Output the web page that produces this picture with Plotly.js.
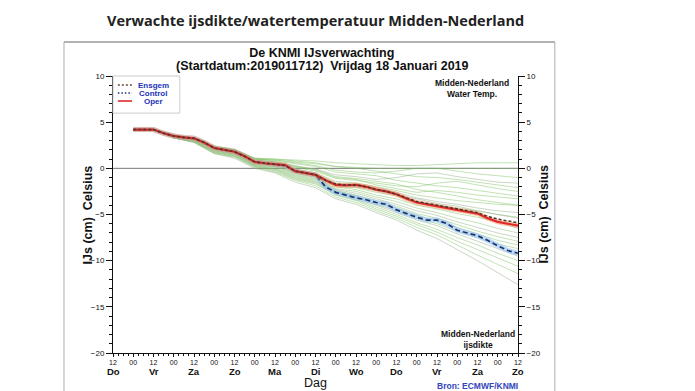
<!DOCTYPE html>
<html>
<head>
<meta charset="utf-8">
<script src="https://cdn.plot.ly/plotly-3.0.1.min.js"></script>
<style>html,body{margin:0;padding:0;background:#fff;}#chart{width:695px;height:391px;}</style>
</head>
<body>
<div id="chart"></div>
<script>
// ---- data ----
const hours6 = [12,18,24,30,36,42,48,54,60,66,72,78,84,90,96,102,108,114,120,126,132,138,144,150,156,162,168,174,180,186,192,198,204,210,216,222,228,234,240];
const oper = [4.2,4.2,4.2,3.8,3.5,3.35,3.25,2.8,2.2,2.0,1.8,1.3,0.7,0.55,0.45,0.35,-0.3,-0.5,-0.7,-1.3,-1.8,-1.85,-1.8,-2.0,-2.3,-2.5,-2.8,-3.3,-3.7,-3.9,-4.1,-4.3,-4.5,-4.7,-4.9,-5.4,-5.8,-6.0,-6.2];
const ensgem = [4.2,4.2,4.2,3.8,3.5,3.35,3.25,2.8,2.2,2.0,1.8,1.3,0.7,0.55,0.45,0.3,-0.3,-0.5,-0.7,-1.3,-1.7,-1.8,-1.8,-2.0,-2.3,-2.5,-2.8,-3.2,-3.6,-3.8,-4.0,-4.2,-4.4,-4.6,-4.8,-5.2,-5.5,-5.7,-5.9];
const control = [4.2,4.2,4.2,3.8,3.5,3.35,3.25,2.8,2.2,2.0,1.8,1.3,0.7,0.55,0.45,0.3,-0.3,-0.5,-0.7,-2.0,-2.6,-2.9,-3.2,-3.4,-3.7,-3.9,-4.5,-4.9,-5.3,-5.6,-5.6,-6.0,-6.7,-7.0,-7.3,-7.8,-8.4,-8.9,-9.2];

const hours12 = [12,24,36,48,60,72,84,96,108,120,132,144,156,168,180,192,204,216,228,240];
const m01 = [4.2,4.2,3.6,3.3,2.4,2.0,1.1,1.0,0.9,0.8,0.6,0.5,0.4,0.3,0.3,0.4,0.5,0.6,0.6,0.6];
const m02 = [4.2,4.2,3.5,3.3,2.3,2.0,1.0,0.9,0.7,0.5,0.2,0.1,0.0,0.0,0.0,0.0,0.0,0.0,0.0,0.0];
const m03 = [4.2,4.2,3.6,3.3,2.3,2.0,1.0,0.9,0.6,0.3,-0.2,-0.4,-0.5,-0.3,0.0,0.0,-0.3,-0.6,-0.8,-1.0];
const m04 = [4.2,4.2,3.5,3.2,2.2,1.9,0.9,0.7,0.3,-0.1,-0.7,-0.9,-1.2,-1.0,-0.6,-0.5,-0.9,-1.2,-1.5,-1.6];
const m05 = [4.2,4.2,3.5,3.2,2.2,1.9,0.8,0.6,0.1,-0.3,-1.1,-1.3,-1.6,-1.9,-2.0,-1.6,-1.4,-1.8,-2.2,-2.5];
const m06 = [4.2,4.2,3.5,3.3,2.3,1.9,0.9,0.7,0.2,-0.2,-1.0,-1.2,-1.8,-2.2,-2.6,-2.4,-2.6,-2.9,-3.1,-3.3];
const m07 = [4.2,4.2,3.5,3.2,2.2,1.8,0.8,0.5,-0.1,-0.5,-1.4,-1.6,-2.0,-2.4,-2.9,-3.2,-3.5,-3.7,-3.9,-4.0];
const m08 = [4.2,4.2,3.5,3.2,2.1,1.8,0.7,0.4,-0.2,-0.6,-1.6,-1.7,-2.1,-2.6,-3.2,-3.6,-3.9,-4.3,-4.6,-4.8];
const m09 = [4.2,4.2,3.5,3.2,2.2,1.8,0.7,0.4,-0.3,-0.8,-1.9,-2.1,-2.6,-3.0,-3.6,-4.0,-4.3,-4.6,-5.0,-5.3];
const m10 = [4.2,4.2,3.4,3.1,2.1,1.7,0.6,0.3,-0.4,-0.9,-2.0,-2.3,-2.9,-3.3,-4.0,-4.4,-4.9,-5.3,-5.8,-6.5];
const m11 = [4.2,4.2,3.4,3.1,2.0,1.6,0.5,0.2,-0.5,-1.0,-2.2,-2.5,-3.1,-3.6,-4.3,-4.8,-5.4,-5.9,-6.5,-7.0];
const m12 = [4.2,4.2,3.4,3.1,2.0,1.6,0.5,0.2,-0.6,-1.1,-2.3,-2.7,-3.3,-3.9,-4.6,-5.1,-5.8,-6.4,-7.0,-7.5];
const m13 = [4.2,4.2,3.4,3.0,1.9,1.5,0.4,0.1,-0.7,-1.2,-2.4,-2.9,-3.5,-4.1,-4.9,-5.4,-6.1,-6.8,-7.4,-7.9];
const m14 = [4.2,4.2,3.4,3.0,1.9,1.5,0.4,0.0,-0.8,-1.3,-2.5,-3.0,-3.7,-4.3,-5.1,-5.7,-6.4,-7.1,-7.8,-8.3];
const m15 = [4.2,4.2,3.3,3.0,1.8,1.4,0.3,-0.1,-0.9,-1.4,-2.6,-3.1,-3.9,-4.6,-5.4,-6.0,-6.8,-7.5,-8.2,-8.7];
const m16 = [4.2,4.2,3.3,2.9,1.8,1.4,0.3,-0.1,-1.0,-1.5,-2.7,-3.2,-4.0,-4.8,-5.6,-6.2,-7.1,-7.9,-8.7,-9.5];
const m17 = [4.2,4.2,3.3,2.9,1.7,1.3,0.2,-0.2,-1.1,-1.6,-2.8,-3.4,-4.2,-5.0,-5.9,-6.6,-7.5,-8.3,-9.2,-10.0];
const m18 = [4.2,4.2,3.3,2.9,1.7,1.3,0.2,-0.3,-1.2,-1.7,-2.9,-3.5,-4.4,-5.2,-6.1,-6.9,-7.9,-8.8,-9.7,-10.6];
const m19 = [4.2,4.2,3.3,2.8,1.6,1.2,0.1,-0.4,-1.3,-1.9,-3.1,-3.7,-4.6,-5.4,-6.4,-7.2,-8.3,-9.4,-10.4,-11.4];
const m20 = [4.2,4.2,3.3,2.8,1.6,1.1,0.0,-0.5,-1.5,-2.1,-3.3,-3.9,-4.8,-5.6,-6.7,-7.6,-8.8,-10.0,-11.3,-12.6];
const m21 = [4.2,4.2,3.5,3.3,2.3,2.0,1.0,0.8,0.5,0.2,-0.4,-0.6,-0.8,-1.3,-1.6,-1.9,-2.1,-2.4,-2.7,-3.0];
const m22 = [4.2,4.2,3.6,3.3,2.4,2.1,1.1,1.0,0.8,0.6,0.2,0.0,-0.3,-0.6,-0.9,-1.0,-1.2,-1.5,-1.8,-2.1];
const m23 = [4.2,4.2,3.5,3.2,2.2,1.9,0.8,0.6,0.2,-0.1,-0.9,-1.1,-1.4,-1.7,-2.3,-2.6,-3.0,-3.4,-3.7,-4.0];
const m24 = [4.2,4.2,3.4,3.1,2.1,1.7,0.6,0.3,-0.2,-0.7,-1.7,-2.0,-2.4,-2.9,-3.3,-3.8,-4.1,-4.6,-5.0,-5.4];
const members = [m01,m02,m03,m04,m05,m06,m07,m08,m09,m10,m11,m12,m13,m14,m15,m16,m17,m18,m19,m20,m21,m22,m23,m24];

const tickHours = [0,12,24,36,48,60,72,84,96,108,120,132,144,156,168,180,192,204,216,228,240];
const tickLabels = ["12","00","12","00","12","00","12","00","12","00","12","00","12","00","12","00","12","00","12","00","12"];
const dayHours = [0,24,48,72,96,120,144,168,192,216,240];
const dayNames = ["Do","Vr","Za","Zo","Ma","Di","Wo","Do","Vr","Za","Zo"];
const legendNames = ["Ensgem","Control","Oper"];

// ---- styles ----
const FONT = "Liberation Sans, Arial, sans-serif";
const ENS_STYLE = {color: '#4a3530', width: 1.5, dash: '3px,2px'};
const CTL_STYLE = {color: '#1b3277', width: 1.7, dash: '5px,3px'};
const OPER_STYLE = {color: '#e02a2a', width: 2.2};

// ---- traces ----
const traces = [];
members.forEach((m, i) => {
  traces.push({
    x: hours12, y: m, type: 'scatter', mode: 'lines', showlegend: false, hoverinfo: 'skip',
    line: {color: (i % 4 === 3) ? 'rgba(150,175,140,0.5)' : 'rgba(120,190,90,0.45)', width: 1}
  });
});
traces.push({x: hours6, y: control, type: 'scatter', mode: 'lines', showlegend: false, hoverinfo: 'skip',
  line: {color: 'rgba(140,190,240,0.55)', width: 5}});
traces.push({x: hours6, y: control, type: 'scatter', mode: 'lines', name: legendNames[1], showlegend: false, line: CTL_STYLE});
traces.push({x: hours6, y: oper, type: 'scatter', mode: 'lines', showlegend: false, hoverinfo: 'skip',
  line: {color: 'rgba(240,140,80,0.45)', width: 5}});
traces.push({x: hours6, y: oper, type: 'scatter', mode: 'lines', name: legendNames[2], showlegend: false, line: OPER_STYLE});
traces.push({x: hours6, y: ensgem, type: 'scatter', mode: 'lines', name: legendNames[0], showlegend: false, line: ENS_STYLE});
// transparent copy bound to the right-hand (mirror) axis so that it gets drawn
traces.push({x: hours6, y: oper, type: 'scatter', mode: 'lines', yaxis: 'y2', opacity: 0, showlegend: false,
  hoverinfo: 'skip', line: {width: 0.1, color: 'rgba(0,0,0,0)'}});

// ---- annotations ----
const annotations = [];
dayHours.forEach((h, i) => {
  annotations.push({x: h, xref: 'x', y: -0.066, yref: 'paper', xanchor: 'center', yanchor: 'middle', showarrow: false,
    text: '<b>' + dayNames[i] + '</b>', font: {family: FONT, size: 9.5, color: '#111'}});
});
annotations.push({x: 0.886, xref: 'paper', y: 0.955, yref: 'paper', xanchor: 'center', yanchor: 'middle', showarrow: false, align: 'center',
  text: '<b>Midden-Nederland<br>Water Temp.</b>', font: {family: FONT, size: 8.5, color: '#111'}});
annotations.push({x: 0.901, xref: 'paper', y: 0.05, yref: 'paper', xanchor: 'center', yanchor: 'middle', showarrow: false, align: 'center',
  text: '<b>Midden-Nederland<br>ijsdikte</b>', font: {family: FONT, size: 8.5, color: '#111'}});
annotations.push({x: 0.9, xref: 'paper', y: -0.118, yref: 'paper', xanchor: 'center', yanchor: 'middle', showarrow: false,
  text: '<b>Bron: ECMWF/KNMI</b>', font: {family: FONT, size: 8.5, color: '#3344bb'}});
annotations.push({x: 0.501, xref: 'paper', y: 1.202, yref: 'paper', xanchor: 'center', yanchor: 'middle', showarrow: false,
  text: '<b>Verwachte ijsdikte/watertemperatuur Midden-Nederland</b>',
  font: {family: 'Open Sans, sans-serif', size: 14.5, color: '#222'}});
annotations.push({x: 0.517, xref: 'paper', y: 1.035, yref: 'paper', xanchor: 'center', yanchor: 'middle', showarrow: false,
  text: '<b>(Startdatum:2019011712)  Vrijdag 18 Januari 2019</b>',
  font: {family: FONT, size: 12.5, color: '#111'}});
// y-axis titles (left and right)
annotations.push({x: -0.062, xref: 'paper', y: 0.5, yref: 'paper', xanchor: 'center', yanchor: 'middle', showarrow: false,
  textangle: -90, text: '<b>IJs (cm)  Celsius</b>', font: {family: FONT, size: 12.5, color: '#111'}});
annotations.push({x: 1.062, xref: 'paper', y: 0.5, yref: 'paper', xanchor: 'center', yanchor: 'middle', showarrow: false,
  textangle: -90, text: '<b>IJs (cm)  Celsius</b>', font: {family: FONT, size: 12.5, color: '#111'}});

// ---- legend (drawn in layout, top-left inside plot) ----
const legendRowsY = [0.9675, 0.9386, 0.9097];
const legendStyles = [ENS_STYLE, CTL_STYLE, OPER_STYLE];
const shapes = [
  {type: 'line', xref: 'paper', yref: 'y', x0: 0, x1: 1, y0: 0, y1: 0, line: {color: '#777', width: 1}, layer: 'below'},
  {type: 'line', xref: 'paper', yref: 'paper', x0: -0.121, x1: 1.091, y0: 1.1227, y1: 1.1227, line: {color: '#999', width: 1.5}},
  {type: 'line', xref: 'paper', yref: 'paper', x0: -0.121, x1: -0.121, y0: 1.1227, y1: -0.14, line: {color: '#aab', width: 1}},
  {type: 'line', xref: 'paper', yref: 'paper', x0: 1.091, x1: 1.091, y0: 1.1227, y1: -0.14, line: {color: '#aab', width: 1}},
  {type: 'rect', xref: 'paper', yref: 'paper', x0: 0.0, x1: 0.165, y0: 0.866, y1: 1.0, fillcolor: '#fff', line: {color: '#ccc', width: 1}}
];
legendNames.forEach((nm, i) => {
  const st = legendStyles[i];
  shapes.push({type: 'line', xref: 'paper', yref: 'paper', x0: 0.012, x1: 0.047, y0: legendRowsY[i], y1: legendRowsY[i],
    line: {color: i === 0 ? '#6a4a3a' : st.color, width: Math.min(st.width, 1.6), dash: i === 2 ? 'solid' : (i === 0 ? '2px,2px' : '1.5px,2px')}});
  annotations.push({x: 0.099, xref: 'paper', y: legendRowsY[i], yref: 'paper', xanchor: 'center', yanchor: 'middle',
    showarrow: false, text: '<b>' + nm + '</b>', font: {family: FONT, size: 8, color: '#2233bb'}});
});

const yBase = {
  range: [-20, 10], tickvals: [-20,-15,-10,-5,0,5,10], showgrid: false, zeroline: false,
  showline: true, linecolor: '#111', linewidth: 1, ticks: 'outside', ticklen: 6, tickcolor: '#111',
  minor: {dtick: 1, ticks: 'outside', ticklen: 3, tickcolor: '#111'},
  tickfont: {family: FONT, size: 8, color: '#111'}
};

const layout = {
  width: 695, height: 391, autosize: false,
  margin: {l: 113, r: 177, t: 76, b: 38},
  paper_bgcolor: '#fff', plot_bgcolor: '#fff',
  title: {text: '<b>De KNMI IJsverwachting</b>',
    x: 0.463, xanchor: 'center', y: 1 - 53 / 391, yanchor: 'middle', yref: 'container',
    font: {family: FONT, size: 12.5, color: '#111'}},
  xaxis: {range: [0, 240], tickvals: tickHours, ticktext: tickLabels, showgrid: false, zeroline: false,
    showline: true, linecolor: '#111', linewidth: 1, ticks: 'outside', ticklen: 3, tickcolor: '#111',
    minor: {dtick: 3, ticks: 'outside', ticklen: 2, tickcolor: '#111'},
    tickfont: {family: FONT, size: 7, color: '#111'},
    title: {text: 'Dag', font: {family: FONT, size: 12.5, color: '#111'}, standoff: 12}},
  yaxis: Object.assign({}, yBase, {side: 'left'}),
  yaxis2: Object.assign({}, yBase, {side: 'right', overlaying: 'y', anchor: 'x'}),
  showlegend: false,
  shapes: shapes,
  annotations: annotations
};

Plotly.newPlot('chart', traces, layout, {displayModeBar: false, staticPlot: true});
</script>
</body>
</html>
